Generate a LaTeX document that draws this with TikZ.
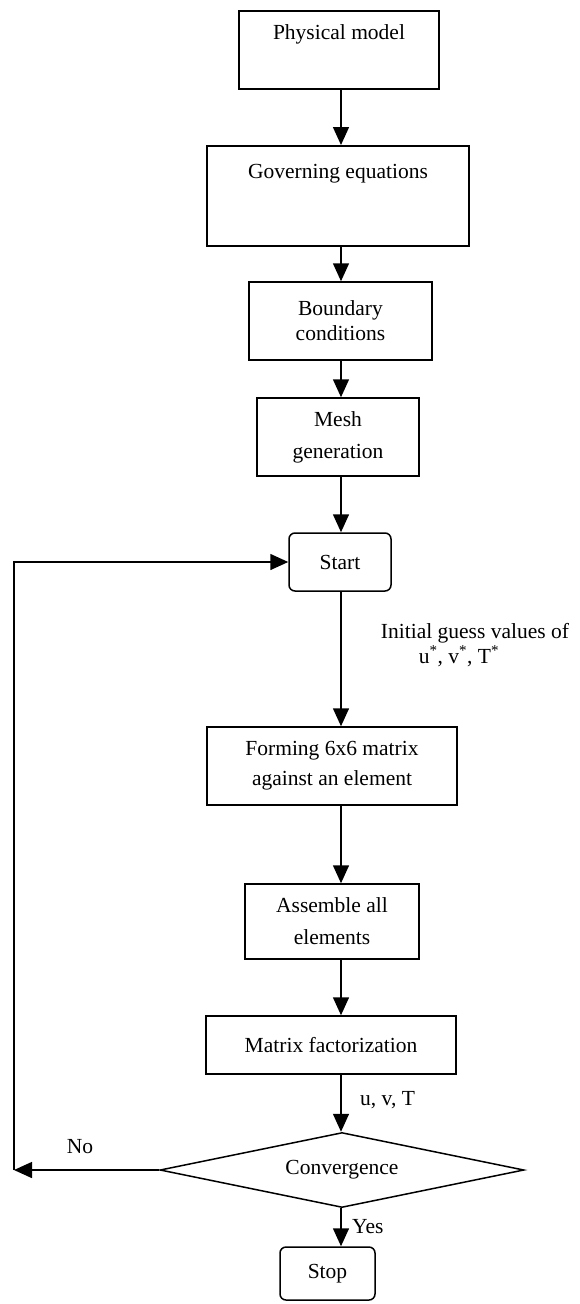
\documentclass[tikz,border=0pt]{standalone}
\usepackage{fontspec}
\setmainfont{Liberation Serif}
\usetikzlibrary{arrows.meta,shapes.geometric}
\begin{document}
\begin{tikzpicture}[x=1pt,y=1pt,
  every node/.style={font=\fontsize{21.5}{30}\selectfont},
  box/.style={draw, line width=1.5pt, inner sep=0pt, align=center},
  rbox/.style={box, rounded corners=6pt},
  arr/.style={-{Triangle[length=18pt,width=16pt]}, line width=1.5pt},
  lbl/.style={inner sep=0pt, anchor=west}]
\useasboundingbox (0,0) rectangle (580,-1304);
\coordinate (ax) at (341,0);
\node[box, anchor=north, minimum width=200pt, text height=29pt, text depth=49pt] (pm) at (339,-10) {Physical model};
\node[box, anchor=north, minimum width=262pt, text height=33pt, text depth=67pt] (ge) at (338,-145) {Governing equations};
\node[box, minimum width=183pt, minimum height=78pt, font=\fontsize{21.5}{25}\selectfont] (bc) at (340.5,-321) {Boundary\\conditions};
\node[box, minimum width=162pt, minimum height=78pt, font=\fontsize{21.5}{32}\selectfont] (mg) at (338,-437) {Mesh\\generation};
\node[rbox, minimum width=102pt, minimum height=58pt] (st) at (340,-562) {Start};
\node[box, minimum width=250pt, minimum height=78pt] (fm) at (332,-766) {Forming 6x6 matrix\\against an element};
\node[box, minimum width=174pt, minimum height=75pt, font=\fontsize{21.5}{32}\selectfont] (as) at (332,-921.5) {Assemble all\\elements};
\node[box, minimum width=250pt, minimum height=58pt] (mf) at (331,-1045) {Matrix factorization};
\node[diamond, draw, line width=1.5pt, inner sep=0pt, aspect=4.85, minimum width=364pt, minimum height=75pt] (cv) at (342,-1170) {Convergence};
\node[rbox, minimum width=95pt, minimum height=53pt] (sp) at (327.5,-1273.5) {Stop};
\draw[arr] (pm.south -| ax) -- (ge.north -| ax);
\draw[arr] (ge.south -| ax) -- (bc.north -| ax);
\draw[arr] (bc.south -| ax) -- (mg.north -| ax);
\draw[arr] (mg.south -| ax) -- (st.north -| ax);
\draw[arr] (st.south -| ax) -- (fm.north -| ax);
\draw[arr] (fm.south -| ax) -- (as.north -| ax);
\draw[arr] (as.south -| ax) -- (mf.north -| ax);
\draw[arr] (mf.south -| ax) -- (cv.north -| ax);
\draw[arr] (cv.south -| ax) -- (sp.north -| ax);
\node[lbl] (uvt) at (360,-1100) {u, v, T};
\node[lbl] (yes) at (352,-1227) {Yes};
\node (no) at (80,-1147) {No};
\node (ig1) at (475,-633) {Initial guess values of};
\node (ig2) at (459,-656) {u\textsuperscript{*}, v\textsuperscript{*}, T\textsuperscript{*}};
\coordinate (lc) at (14,-1170);
\draw[arr] (cv.west) -- (lc);
\draw[arr] (lc) |- (st.west);
\end{tikzpicture}
\end{document}
